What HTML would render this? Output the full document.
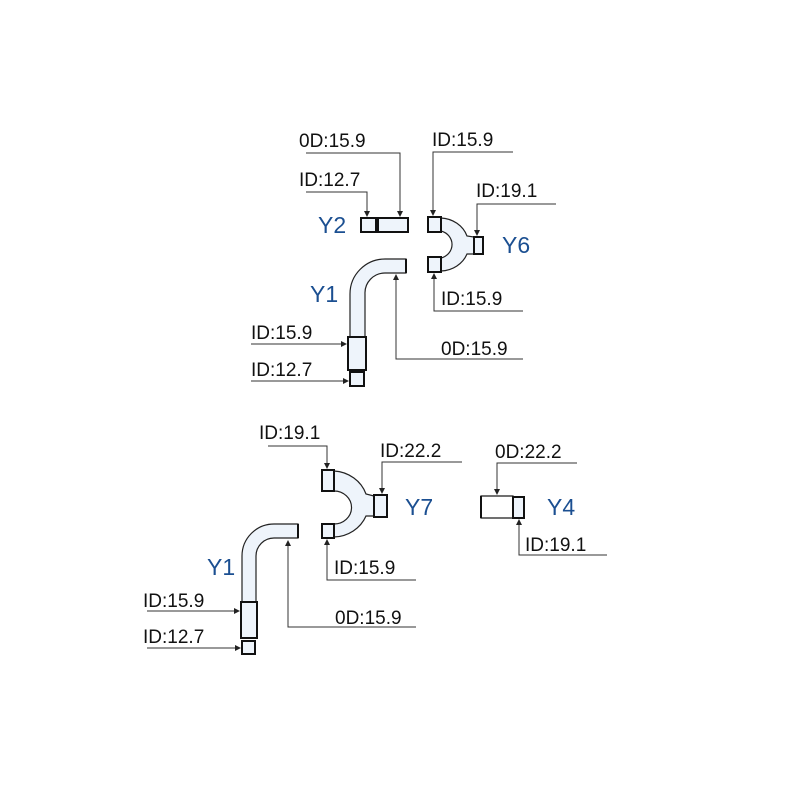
<!DOCTYPE html>
<html><head><meta charset="utf-8"><style>
html,body{margin:0;padding:0;background:#fff;width:800px;height:800px;overflow:hidden}
text{font-family:"Liberation Sans",Arial,sans-serif}
.t{font-size:19px;fill:#111}
.y{font-size:23px;fill:#1b4f91}
.l{stroke:#333;stroke-width:1;fill:none}
.p{fill:#eef4fb;stroke:#222;stroke-width:1.2}
.b{fill:#eef4fb;stroke:#111;stroke-width:2}
</style></head><body>
<svg width="800" height="800" viewBox="0 0 800 800" xmlns="http://www.w3.org/2000/svg">
<defs><marker id="a" markerWidth="6" markerHeight="8" refX="5" refY="4" orient="auto" markerUnits="userSpaceOnUse"><path d="M0,1 L6,4 L0,7 z" fill="#222"/></marker></defs>

<!-- Y2 -->
<rect class="b" x="361" y="218" width="15" height="14"/>
<rect class="b" x="378" y="218" width="30" height="14"/>
<text class="y" x="318" y="233">Y2</text>
<text class="t" x="299" y="147">0D:15.9</text>
<polyline class="l" points="306,153 400,153 400,216" marker-end="url(#a)"/>
<text class="t" x="299" y="186">ID:12.7</text>
<polyline class="l" points="306,192 367,192 367,216" marker-end="url(#a)"/>

<!-- Y6 -->
<path class="p" d="M441,218 A29,27 0 0 1 467,236 L474,237 L474,254 L467,254 A29,27 0 0 1 441,271 L441,258 A15,14 0 0 0 441,231 Z"/>
<rect class="b" x="428" y="217" width="13" height="15"/>
<rect class="b" x="428" y="257" width="13" height="15"/>
<rect class="b" x="474" y="237" width="9" height="17"/>
<text class="y" x="502" y="253">Y6</text>
<text class="t" x="432" y="146">ID:15.9</text>
<polyline class="l" points="513,152 433,152 433,215" marker-end="url(#a)"/>
<text class="t" x="476" y="197">ID:19.1</text>
<polyline class="l" points="556,204 477,204 477,235" marker-end="url(#a)"/>
<text class="t" x="441" y="305">ID:15.9</text>
<polyline class="l" points="523,311 434,311 434,274" marker-end="url(#a)"/>

<!-- Y1 top -->
<path class="p" d="M406,259 L385,259 A35,35 0 0 0 350,294 L350,337 L365,337 L365,294 A20,20 0 0 1 385,273 L406,273 Z"/>
<line x1="406" y1="259" x2="406" y2="273" stroke="#111" stroke-width="2"/>
<rect class="b" x="348" y="337" width="18" height="33"/>
<rect class="b" x="350" y="372" width="14" height="14"/>
<text class="y" x="310" y="302">Y1</text>
<text class="t" x="441" y="355">0D:15.9</text>
<polyline class="l" points="523,359 396,359 396,275" marker-end="url(#a)"/>
<text class="t" x="251" y="339">ID:15.9</text>
<polyline class="l" points="251,344 346,344" marker-end="url(#a)"/>
<text class="t" x="251" y="376">ID:12.7</text>
<polyline class="l" points="251,381 348,381" marker-end="url(#a)"/>

<!-- Y7 -->
<path class="p" d="M334,471 A36,34 0 0 1 366,494 L374,496 L374,516 L366,516 A36,34 0 0 1 334,537 L334,524 A17,16 0 0 0 334,491 Z"/>
<rect class="b" x="322" y="470" width="12" height="21"/>
<rect class="b" x="322" y="524" width="12" height="14"/>
<rect class="b" x="374" y="495" width="13" height="22"/>
<text class="y" x="405" y="515">Y7</text>
<text class="t" x="259" y="439">ID:19.1</text>
<polyline class="l" points="268,446 327,446 327,468" marker-end="url(#a)"/>
<text class="t" x="380" y="457">ID:22.2</text>
<polyline class="l" points="462,462 382,462 382,493" marker-end="url(#a)"/>
<text class="t" x="334" y="574">ID:15.9</text>
<polyline class="l" points="416,580 327,580 327,540" marker-end="url(#a)"/>

<!-- Y4 -->
<rect x="481" y="496" width="32" height="22" fill="#fff" stroke="#111" stroke-width="1.2"/>
<line x1="481" y1="496" x2="481" y2="518" stroke="#111" stroke-width="2"/>
<rect class="b" x="513" y="497" width="11" height="21"/>
<text class="y" x="547" y="515">Y4</text>
<text class="t" x="495" y="458">0D:22.2</text>
<polyline class="l" points="577,463 497,463 497,494" marker-end="url(#a)"/>
<text class="t" x="525" y="551">ID:19.1</text>
<polyline class="l" points="607,555 519,555 519,520" marker-end="url(#a)"/>

<!-- Y1 bottom -->
<path class="p" d="M298,524 L274,524 A32,32 0 0 0 242,556 L242,602 L256,602 L256,556 A18,18 0 0 1 274,538 L298,538 Z"/>
<line x1="298" y1="524" x2="298" y2="538" stroke="#111" stroke-width="2"/>
<rect class="b" x="241" y="602" width="16" height="36"/>
<rect class="b" x="242" y="641" width="13" height="13"/>
<text class="y" x="207" y="575">Y1</text>
<text class="t" x="335" y="624">0D:15.9</text>
<polyline class="l" points="416,627 288,627 288,541" marker-end="url(#a)"/>
<text class="t" x="143" y="607">ID:15.9</text>
<polyline class="l" points="147,611 239,611" marker-end="url(#a)"/>
<text class="t" x="143" y="643">ID:12.7</text>
<polyline class="l" points="147,648 240,648" marker-end="url(#a)"/>
</svg>
</body></html>
